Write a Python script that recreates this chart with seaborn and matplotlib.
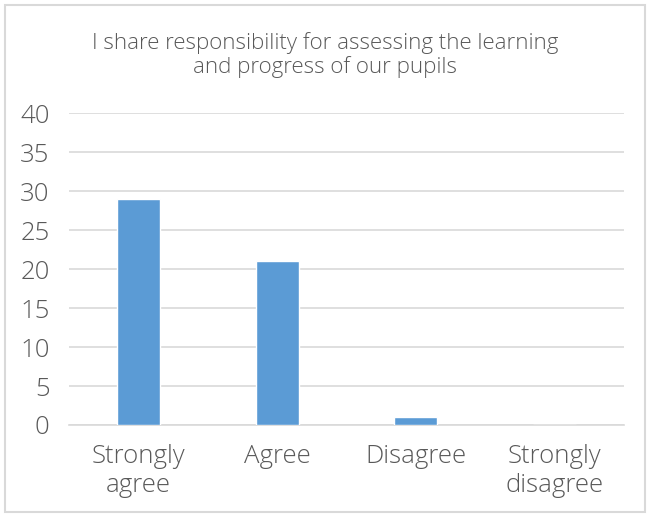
import matplotlib
matplotlib.use("Agg")
import matplotlib.pyplot as plt
import seaborn as sns
import pandas as pd
from matplotlib.patches import Rectangle

# Datos del gráfico
categories = ["Strongly\nagree", "Agree", "Disagree", "Strongly\ndisagree"]
counts = [29, 21, 1, 0]
y_ticks = [0, 5, 10, 15, 20, 25, 30, 35, 40]
title = "I share responsibility for assessing the learning\nand progress of our pupils"

TEXT = "#595959"
GRID = "#D9D9D9"
BAR = "#5B9BD5"

sns.set_theme(style="white")
plt.rcParams["font.family"] = ["Open Sans", "DejaVu Sans"]
plt.rcParams["font.weight"] = "light"

df = pd.DataFrame({"category": categories, "count": counts})

fig = plt.figure(figsize=(6.5, 5.17), dpi=100)
ax = fig.add_axes([0.106, 0.178, 0.854, 0.603])

sns.barplot(data=df, x="category", y="count", color=BAR, width=0.31,
            saturation=1, ax=ax, zorder=3)

ax.set_ylim(0, 40)
ax.set_yticks(y_ticks)
ax.yaxis.grid(True, color=GRID, linewidth=1.2, zorder=0)
ax.set_axisbelow(True)
for side in ["top", "right", "left"]:
    ax.spines[side].set_visible(False)
ax.spines["bottom"].set_color(GRID)
ax.spines["bottom"].set_linewidth(1.2)
ax.tick_params(axis="both", length=0, labelsize=18.5, colors=TEXT)
ax.tick_params(axis="y", pad=14)
ax.tick_params(axis="x", pad=14)
for lbl in ax.get_xticklabels():
    lbl.set_linespacing(1.2)
ax.set_xlabel("")
ax.set_ylabel("")

fig.text(0.5, 0.893, title, ha="center", va="center", fontsize=16,
         color=TEXT, linespacing=1.12)

# Marco exterior del gráfico
fig.patches.append(Rectangle((0.008, 0.01), 0.984, 0.98, transform=fig.transFigure,
                             fill=False, edgecolor=GRID, linewidth=1.5))

fig.savefig("out.png", dpi=100)
plt.close(fig)
